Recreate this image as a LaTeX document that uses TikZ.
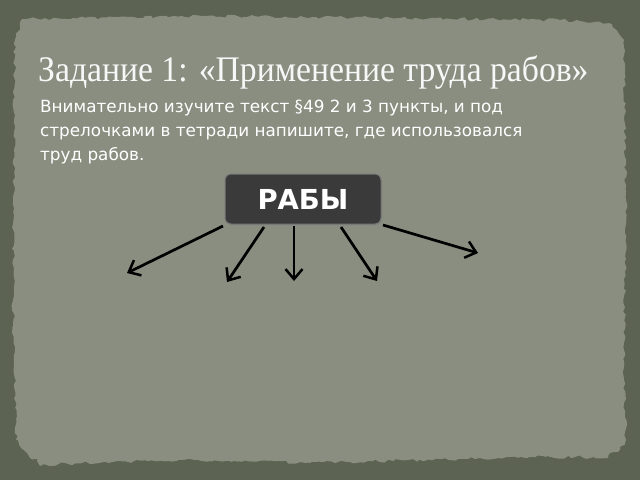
\documentclass[tikz,border=0pt]{standalone}
\usepackage{fontspec}
\setmainfont{Liberation Serif}
\newfontfamily\bodyfont{DejaVu Sans}
\usetikzlibrary{arrows.meta,decorations.pathmorphing,shadows}
\definecolor{outerbg}{RGB}{92,99,82}
\definecolor{panelbg}{RGB}{138,142,128}
\definecolor{panelhi}{RGB}{146,150,136}
\definecolor{boxfill}{RGB}{58,58,58}
\definecolor{boxedge}{RGB}{120,120,120}
\tikzset{
  arr/.style={draw=black, line width=2.7pt, -{Straight Barb[length=10pt,width=17pt,line width=2.5pt]}},
  labelbox/.style={draw=boxedge, line width=1pt, fill=boxfill, rounded corners=6pt,
    minimum width=156pt, minimum height=50pt, text=white, font=\bodyfont\bfseries\fontsize{27.5}{30}\selectfont},
  titletext/.style={anchor=base west, text=white!94!gray, inner sep=0pt},
  bodytext/.style={anchor=base west, text=white, inner sep=0pt, font=\bodyfont\fontsize{16.8}{24}\selectfont}
}
\begin{document}
\begin{tikzpicture}[x=1pt,y=-1pt]
\pgfmathsetseed{7}
\fill[outerbg] (0,0) rectangle (640,480);
\useasboundingbox (0,0) rectangle (640,480);
% lighter torn strip near bottom
\fill[panelhi!85!outerbg, decorate, decoration={random steps, segment length=5pt, amplitude=2pt}]
  (30,440) -- (610,440) -- (608,458) -- (450,454) -- (300,462) -- (150,458) -- (40,466) -- cycle;
% panel
\fill[panelbg, decorate, decoration={random steps, segment length=4pt, amplitude=1.6pt}]
  (22,19) -- (200,16) -- (400,18) -- (560,20) -- (612,24) -- (624,40) -- (626,200) -- (624,380) -- (626,440) -- (618,452)
  -- (500,458) -- (350,462) -- (200,460) -- (100,462) -- (30,458) -- (16,440) -- (13,300) -- (14,120) -- (15,40) -- cycle;
% title
\node[titletext] (title) at (38,81) {\scalebox{0.935}[1]{\fontsize{36}{40}\selectfont Задание 1: «Применение труда рабов»}};
% body text
\node[bodytext] (l1) at (40,112) {Внимательно изучите текст §49 2 и 3 пункты, и под};
\node[bodytext] (l2) at (40,136) {стрелочками в тетради напишите, где использовался};
\node[bodytext] (l3) at (40,160) {труд рабов.};
% box
\node[labelbox, drop shadow={opacity=0.4, shadow xshift=1pt, shadow yshift=-1.5pt}] (slaves) at (303,199) {РАБЫ};
% arrow coordinates
\coordinate (s1) at (223,226); \coordinate (e1) at (127,273);
\coordinate (s2) at (264,227); \coordinate (e2) at (227,282);
\coordinate (s3) at (294,226); \coordinate (e3) at (294,281);
\coordinate (s4) at (341,227); \coordinate (e4) at (377,281);
\coordinate (s5) at (383,225); \coordinate (e5) at (478,253);
\draw[arr] (s1) -- (e1);
\draw[arr] (s2) -- (e2);
\draw[arr] (s3) -- (e3);
\draw[arr] (s4) -- (e4);
\draw[arr] (s5) -- (e5);
\end{tikzpicture}
\end{document}
